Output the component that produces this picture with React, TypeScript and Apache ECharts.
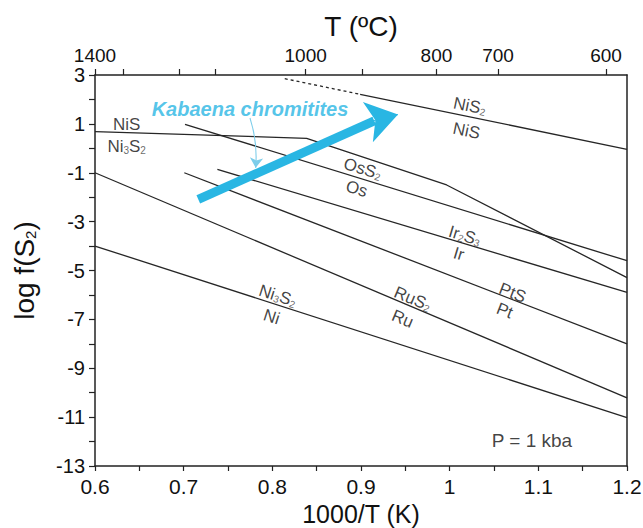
import React, { useEffect, useRef } from 'react';
import * as echarts from 'echarts';

// ---- axes ----
const X_MIN = 0.6;
const X_MAX = 1.2;
const Y_MIN = -13;
const Y_MAX = 3;

// top temperature axis (°C), placed at their 1000/T positions as drawn in the figure
const TOP_TICK_POS = [0.6, 0.6323, 0.6947, 0.7353, 0.8376, 0.9011, 0.9851, 1.0545, 1.1763];
const TOP_LABEL_POS = [0.6, 0.8376, 0.9851, 1.0545, 1.1763];
const TOP_LABELS = ['1400', '1000', '800', '700', '600'];

// ---- sulfidation reaction boundaries [1000/T, log f(S2)] ----
const NIS2_NIS_DASHED = [[0.814, 2.85], [0.899, 2.21]];
const NIS2_NIS = [[0.899, 2.21], [1.2, -0.04]];
const NIS_NI3S2 = [[0.6, 0.68], [0.8387, 0.41], [0.9966, -1.5], [1.2, -5.29]];
const OSS2_OS = [[0.7015, 0.98], [1.2, -4.6]];
const IR2S3_IR = [[0.738, -0.86], [1.2, -5.9]];
const PTS_PT = [[0.7007, -1.0], [1.2, -8.0]];
const RUS2_RU = [[0.6, -1.0], [1.2, -10.21]];
const NI3S2_NI = [[0.6, -4.0], [1.2, -11.02]];

// ---- annotations ----
const TREND_SHAFT = [[0.7165, -2.09], [0.915, 1.12]];
const TREND_HEAD = [[0.905, 1.05], [0.9417, 1.38]];
const POINTER_ARROW = [[0.7748, 1.24], [0.7812, -0.8]];

const LABEL_POS = [
  [0.6357, 1.02], [0.6357, 0.1],
  [1.0229, 1.77], [1.0192, 0.75],
  [0.9022, -0.8], [0.8955, -1.62],
  [1.0173, -3.54], [1.0105, -4.28],
  [1.0714, -5.88], [1.0624, -6.61],
  [0.9586, -6.12], [0.9474, -6.94],
  [0.8064, -6.0], [0.7996, -6.86],
];
const LABEL_TEXT = [
  '{m|NiS}', '{m|Ni}{s|3}{m|S}{s|2}',
  '{m|NiS}{s|2}', '{m|NiS}',
  '{m|OsS}{s|2}', '{m|Os}',
  '{m|Ir}{s|2}{m|S}{s|3}', '{m|Ir}',
  '{m|PtS}', '{m|Pt}',
  '{m|RuS}{s|2}', '{m|Ru}',
  '{m|Ni}{s|3}{m|S}{s|2}', '{m|Ni}',
];
const LABEL_ROT = [0, 0, -11.6, -11.6, -17, -17, -16.8, -16.8, -21.2, -21.2, -22.8, -22.8, -17.8, -17.8];

const TITLE_POS = [0.7748, 1.62];
const TITLE_TEXT = 'Kabaena chromitites';
const PRESSURE_POS = [1.0928, -11.97];
const PRESSURE_TEXT = 'P = 1 kba';

const FONT = '"Liberation Sans", Arial, Helvetica, sans-serif';
const INK = '#111111';
const LINE = '#262626';
const CYAN = '#29b6e3';

export default function App() {
  const ref = useRef<HTMLDivElement>(null);

  useEffect(() => {
    document.body.style.margin = '0';
    const chart = echarts.init(ref.current!, null, { renderer: 'svg' });

    const mkLine = (name: string, data: number[][], dashed = false) => ({
      type: 'line',
      name,
      data,
      symbol: 'none',
      showSymbol: false,
      silent: true,
      z: 2,
      lineStyle: { color: LINE, width: 1.3, type: dashed ? [3, 3] : 'solid' },
    });

    const rich = {
      m: { fontSize: 17, color: INK, fontFamily: FONT, lineHeight: 19, verticalAlign: 'bottom' },
      s: { fontSize: 10, color: '#444', fontFamily: FONT, lineHeight: 6, verticalAlign: 'bottom' },
    };

    const labelItems = LABEL_POS.map((p, i) => ({
      value: p,
      label: { formatter: LABEL_TEXT[i], rotate: LABEL_ROT[i] },
    }));

    const axisLineStyle = { color: '#222', width: 1.5 };
    const tickStyle = { color: '#222', width: 1.2 };

    const nearest = (arr: number[], v: number) => {
      let best = 0;
      for (let i = 1; i < arr.length; i++) if (Math.abs(arr[i] - v) < Math.abs(arr[best] - v)) best = i;
      return best;
    };

    const textSeriesBase = {
      type: 'scatter',
      silent: true,
      symbol: 'circle',
      symbolSize: 0,
      itemStyle: { color: 'rgba(0,0,0,0)' },
    };

    chart.setOption({
      animation: false,
      backgroundColor: '#ffffff',
      grid: { left: 95, right: 16, top: 75, bottom: 62, containLabel: false, outerBoundsMode: 'none' },
      xAxis: [
        {
          type: 'value',
          position: 'bottom',
          min: X_MIN,
          max: X_MAX,
          interval: 0.05,
          name: '1000/T (K)',
          nameLocation: 'middle',
          nameGap: 31,
          nameTextStyle: { fontSize: 25, lineHeight: 25, color: INK, fontFamily: FONT },
          axisLine: { show: true, onZero: false, lineStyle: axisLineStyle },
          axisTick: { show: true, inside: false, length: 5, lineStyle: tickStyle },
          axisLabel: {
            margin: 10,
            fontSize: 21,
            color: INK,
            fontFamily: FONT,
            showMinLabel: true,
            showMaxLabel: true,
            formatter: (v: number) => (Math.round(v * 100) % 10 === 0 ? String(+v.toFixed(1)) : ''),
          },
          splitLine: { show: false },
        },
        {
          type: 'value',
          position: 'top',
          min: X_MIN,
          max: X_MAX,
          name: 'T (ºC)',
          nameLocation: 'middle',
          nameGap: 34,
          nameTextStyle: { fontSize: 28, color: INK, fontFamily: FONT },
          axisLine: { show: true, onZero: false, lineStyle: axisLineStyle },
          axisTick: { show: true, inside: false, length: 6, lineStyle: tickStyle, customValues: TOP_TICK_POS },
          axisLabel: {
            margin: 12,
            fontSize: 19,
            lineHeight: 16,
            color: INK,
            fontFamily: FONT,
            customValues: TOP_LABEL_POS,
            formatter: (v: number) => TOP_LABELS[nearest(TOP_LABEL_POS, v)],
          },
          splitLine: { show: false },
        },
      ],
      yAxis: [
        {
          type: 'value',
          position: 'left',
          min: Y_MIN,
          max: Y_MAX,
          interval: 1,
          name: '{a|log f(S}{s|2}{a|)}',
          nameLocation: 'middle',
          nameRotate: 90,
          nameGap: 57,
          nameTextStyle: {
            color: INK,
            fontFamily: FONT,
            rich: {
              a: { fontSize: 28, color: INK, fontFamily: FONT, lineHeight: 32, verticalAlign: 'bottom' },
              s: { fontSize: 15, color: INK, fontFamily: FONT, lineHeight: 12, verticalAlign: 'bottom' },
            },
          },
          axisLine: { show: true, onZero: false, lineStyle: axisLineStyle },
          axisTick: { show: true, inside: false, length: 6, lineStyle: tickStyle },
          axisLabel: {
            margin: 10,
            fontSize: 20,
            lineHeight: 14,
            color: INK,
            fontFamily: FONT,
            formatter: (v: number) => {
              const r = Math.round(v);
              return Math.abs(r) % 2 === 1 ? String(r) : '';
            },
          },
          splitLine: { show: false },
        },
        {
          type: 'value',
          position: 'right',
          min: Y_MIN,
          max: Y_MAX,
          axisLine: { show: true, onZero: false, lineStyle: axisLineStyle },
          axisTick: { show: false },
          axisLabel: { show: false },
          splitLine: { show: false },
        },
      ],
      series: [
        mkLine('NiS2-NiS (extrapolated)', NIS2_NIS_DASHED, true),
        mkLine('NiS2-NiS', NIS2_NIS),
        mkLine('NiS-Ni3S2', NIS_NI3S2),
        mkLine('OsS2-Os', OSS2_OS),
        mkLine('Ir2S3-Ir', IR2S3_IR),
        mkLine('PtS-Pt', PTS_PT),
        mkLine('RuS2-Ru', RUS2_RU),
        mkLine('Ni3S2-Ni', NI3S2_NI),
        {
          type: 'lines',
          coordinateSystem: 'cartesian2d',
          xAxisIndex: 0,
          yAxisIndex: 0,
          silent: true,
          z: 5,
          symbol: ['none', 'none'],
          lineStyle: { color: CYAN, width: 9, opacity: 1, curveness: 0, cap: 'butt' },
          data: [{ coords: TREND_SHAFT }],
        },
        {
          type: 'lines',
          coordinateSystem: 'cartesian2d',
          xAxisIndex: 0,
          yAxisIndex: 0,
          silent: true,
          z: 5,
          symbol: ['none', 'arrow'],
          symbolSize: [13, 31],
          lineStyle: { color: CYAN, width: 1, opacity: 1, curveness: 0 },
          data: [{ coords: TREND_HEAD }],
        },
        {
          type: 'lines',
          coordinateSystem: 'cartesian2d',
          xAxisIndex: 0,
          yAxisIndex: 0,
          silent: true,
          z: 4,
          symbol: ['none', 'arrow'],
          symbolSize: [6, 10],
          lineStyle: { color: '#7ccdea', width: 1.1, opacity: 1, curveness: 0.1 },
          data: [{ coords: POINTER_ARROW }],
        },
        {
          ...textSeriesBase,
          z: 6,
          label: { show: true, position: 'inside', color: INK, fontSize: 17, fontFamily: FONT, rich },
          data: labelItems,
        },
        {
          ...textSeriesBase,
          z: 7,
          label: { show: true, position: 'inside', fontFamily: FONT },
          data: [
            {
              value: TITLE_POS,
              label: {
                formatter: TITLE_TEXT,
                color: CYAN,
                fontSize: 20,
                fontWeight: 'bold',
                fontStyle: 'italic',
              },
            },
            {
              value: PRESSURE_POS,
              label: { formatter: PRESSURE_TEXT, color: INK, fontSize: 19 },
            },
          ],
        },
      ],
    });

    return () => chart.dispose();
  }, []);

  return <div ref={ref} style={{ width: 643, height: 528 }} />;
}
